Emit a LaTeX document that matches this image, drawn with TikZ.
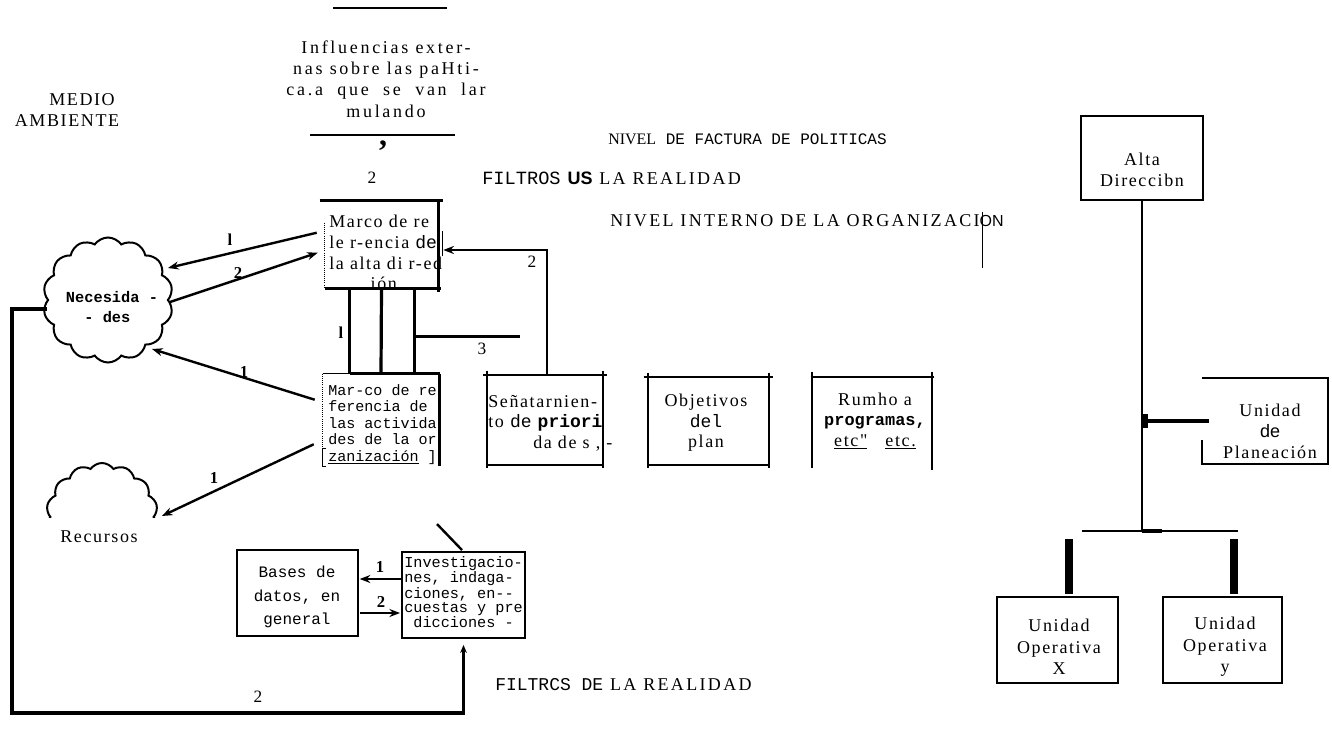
\documentclass[tikz,border=0pt]{standalone}
\usepackage{fontspec}
\setmainfont{Liberation Serif}
\newfontfamily\srf{Liberation Serif}[LetterSpace=9]
\newfontfamily\srfx{Liberation Serif}[LetterSpace=13]
\newfontfamily\srfw{Liberation Serif}[LetterSpace=15]
\newfontfamily\mono{Liberation Mono}
\newfontfamily\sns{Liberation Sans}
\usetikzlibrary{arrows.meta,shapes.symbols,calc}
\newdimen\px \px=0.75pt
% box drawn as four strokes whose ends overshoot the corners a little
\newcommand\ovbox[1]{%
  \draw[bx] ($(#1.north west)+(-4,0)$) -- ($(#1.north east)+(4,0)$);
  \draw[bx] ($(#1.north west)+(0,-4)$) -- ($(#1.south west)+(0,3)$);
  \draw[bx] ($(#1.north east)+(0,-4)$) -- ($(#1.south east)+(0,3)$);
  \draw[bx] (#1.south west) -- (#1.south east);}
\begin{document}
\begin{tikzpicture}[x=0.75pt,y=-0.75pt,
  txt/.style={inner sep=0pt, align=center, font=\srf\fontsize{13.5}{15.4}\selectfont},
  tw/.style={inner sep=0pt, align=left, font=\mono\fontsize{11.3}{12.4}\selectfont},
  num/.style={inner sep=0pt, font=\bfseries\fontsize{12.5}{12.5}\selectfont},
  plainnum/.style={inner sep=0pt, font=\fontsize{13}{13}\selectfont},
  bx/.style={line width=1.2pt},
  fullbox/.style={draw, line width=1.2pt, inner sep=0pt},
  shell/.style={inner sep=0pt},
  heavy/.style={line width=2.4pt},
  link/.style={line width=1.8pt, -{Stealth[length=8pt,width=6pt]}},
  puff/.style={cloud, cloud puffs=14, cloud puff arc=110, cloud ignores aspect,
    draw, line width=1.5pt, inner sep=0pt},
]
\path[fill=white] (0,0) rectangle (1332,731);
\useasboundingbox (0,0) rectangle (1332,731);

% ---------- environment and external influences ----------
\node[txt] (medio) at (82,100) {MEDIO};
\node[txt] (amb) at (67,121) {AMBIENTE};

\draw[line width=1pt] (333,8) -- (447,8);
\node[txt, font=\srfw\fontsize{13.5}{15.9}\selectfont] (infl) at (386,79)
  {Influencias exter-\\nas sobre las paHti-\\ca.a \ que \ se \ van \ lar\\mulando};
\draw[line width=1.3pt] (310,135) -- (455,135);
\node[inner sep=0pt, font=\bfseries\fontsize{24}{24}\selectfont] (comma) at (383,146) {,};
\node[plainnum] (two) at (372,178) {2};

% ---------- level headings ----------
\node[anchor=west, inner sep=0pt, font=\fontsize{12}{12}\selectfont] (nivf) at (608,139)
  {NIVEL{\mono\ DE FACTURA DE POLITICAS}};
\node[anchor=west, inner sep=0pt, font=\srfx\fontsize{13.5}{14}\selectfont] (filt) at (482,178)
  {{\mono\fontsize{14}{14}\selectfont FILTROS} {\sns\bfseries US} LA REALIDAD};
\node[anchor=west, inner sep=0pt, font=\srfx\fontsize{13.5}{14}\selectfont] (nivi) at (610,221)
  {NIVEL INTERNO DE LA ORGANIZACI{\sns\fontsize{12}{12}\selectfont ON}};
\draw[line width=0.7pt] ($(nivi.east)+(-22,-9)$) -- ($(nivi.east)+(-22,47)$);
\node[anchor=west, inner sep=0pt, font=\srfx\fontsize{13.5}{14}\selectfont] (filt2) at (495,685)
  {{\mono\fontsize{13.5}{14}\selectfont FILTRCS DE} LA REALIDAD};

% ---------- frame of reference of top management ----------
\node[shell, minimum width=113\px, minimum height=87\px] (m1) at (381.5,244.5) {};
\draw[heavy] ($(m1.north west)+(-5,0)$) -- ($(m1.north east)+(5,0)$);
\draw[heavy] (m1.north east) -- ($(m1.south east)+(0,4)$);
\draw[heavy] (m1.south west) -- ($(m1.south east)+(3,0)$);
\draw[line width=0.6pt, densely dotted] ($(m1.north west)+(0,22)$) -- (m1.south west);
\draw[line width=0.8pt] ($(m1.east)+(4,-13)$) -- ($(m1.east)+(4,11)$);
\node[txt, anchor=north west, align=left, font=\srf\fontsize{13.5}{15.5}\selectfont] (m1t) at (329,215)
  {Marco de re\\le r-encia {\mono de}\\la alta di r-ed\\\hspace*{2.3em}ión};

% ---------- frame of reference of the organisation ----------
\node[shell, minimum width=116\px, minimum height=92\px] (m2) at (381,420) {};
\draw[heavy] ($(m2.north west)+(27,0)$) -- ($(m2.north east)+(1,0)$);
\draw[line width=0.8pt] (m2.north west) -- ($(m2.north west)+(27,0)$);
\draw[heavy] (m2.north east) -- (m2.south east);
\draw[line width=0.6pt, densely dotted] (m2.north west) -- (m2.south west);
\draw[line width=0.9pt] ($(m2.south west)+(3,-18)$) -- ($(m2.south west)+(0,-18)$)
  -- (m2.south west) -- ($(m2.south west)+(3,0)$);
\node[tw, anchor=north west] (m2t) at (328,384)
  {Mar-co de re\\ferencia de\\las activida\\des de la or\\\underline{zanización}\ ]};

% links between the two frames
\draw[heavy] ($(m1.south west)+(25,0)$) -- ($(m2.north west)+(27,0)$);
\draw[heavy] (m1.south) -- (m2.north);
\draw[heavy] ($(m1.south west)+(90,0)$) -- ($(m2.north west)+(92,0)$);
\coordinate (tap3) at ($(m1.south west)+(195,48)$);
\draw[heavy] ($(m1.south west)+(90,48)$) -- (tap3);
\node[num] (l1) at (341,333) {l};
\node[plainnum] (l3) at (482,349) {3};

% ---------- plan contents ----------
\node[shell, minimum width=116\px, minimum height=90\px] (sen) at (545,420) {};
\ovbox{sen}
\node[txt, anchor=west, align=left] (sent) at (488,423)
  {Señatarnien-\\to {\mono de} {\mono\bfseries priori}\\\hspace*{2.5em}da de s , -};
\node[shell, minimum width=121\px, minimum height=88\px] (obj) at (708.5,421) {};
\ovbox{obj}
\node[txt] (objt) at (706,423) {Objetivos\\{\mono del}\\plan};
\node[shell, minimum width=120\px, minimum height=91\px] (rum) at (872,422.5) {};
\draw[bx] ($(rum.north west)+(-1,0)$) -- ($(rum.north east)+(2,0)$);
\draw[bx] ($(rum.north west)+(0,-5)$) -- (rum.south west);
\draw[bx] ($(rum.north east)+(0,-5)$) -- ($(rum.south east)+(0,2)$);
\node[txt] (rumt) at (875,421)
  {Rumho a\\{\mono\bfseries\fontsize{12.7}{15}\selectfont programas,}\\\underline{etc"}\quad\underline{etc.}};

\draw[line width=2pt, -{Stealth[length=8pt,width=6pt]}]
  ($(sen.north)+(2,0)$) |- ($(m1.east)+(5,5.5)$);
\node[plainnum] (l2r) at (532,262) {2};

% ---------- environment clouds ----------
\node[puff, minimum width=130\px, minimum height=125\px] (nec) at (108,300) {};
\node[inner sep=0pt, align=left, font=\mono\bfseries\fontsize{11.5}{15}\selectfont] (nect) at (112,307)
  {Necesida -\\\hspace*{1.2em}- des};
\begin{scope}
  \clip (0,440) rectangle (300,517);
  \node[puff, minimum width=112\px, minimum height=108\px] (rec) at (102,517) {};
\end{scope}
\node[txt] (rect) at (99,537) {Recursos};

\draw[link] ($(m1.north west)+(-8,32)$) -- ($(nec.center)+(60,-32)$);
\node[num] (la) at (230,240) {l};
\draw[link] ($(nec.center)+(62,2)$) -- ($(m1.north west)+(-7,52)$);
\node[num] (lb) at (238,273) {2};
\draw[link] ($(m2.north west)+(-8,26)$) -- ($(nec.center)+(44,49)$);
\node[num] (lc) at (244,372) {1};
\draw[link] ($(m2.south west)+(-9,-22)$) -- ($(rec.east)+(7,-1)$);
\node[num] (ld) at (214,478) {1};

% ---------- research and data bases ----------
\node[fullbox, line width=1.4pt, minimum width=123\px, minimum height=86\px] (inv) at (463.5,595) {};
\node[inner sep=0pt, align=left, anchor=north west, font=\mono\fontsize{11.4}{10.6}\selectfont]
  (invt) at (404,556)
  {Investigacio-\\nes, indaga-\\ciones, en--\\cuestas y pre\\\ dicciones -};
\draw[line width=1.8pt] ($(inv.north)+(-26.5,-27)$) -- ($(inv.north)+(-1.5,-1)$);

\node[fullbox, line width=1pt, minimum width=121\px, minimum height=86\px] (bas) at (297.5,593) {};
\node[inner sep=0pt, align=center, font=\mono\fontsize{12}{17.6}\selectfont] (bast) at (297,597)
  {Bases de\\datos, en\\general};

\draw[link] ($(inv.west)+(0,-16)$) -- ($(bas.east)+(1,-14)$);
\node[num] (le) at (380,567) {1};
\draw[link] ($(bas.east)+(1,20)$) -- ($(inv.west)+(-1,18)$);
\node[num] (lf) at (381,602) {2};

% feedback from the environment to research
\coordinate (loopL) at (12,713);
\draw[line width=2.4pt, -{Stealth[length=6pt,width=5pt]}]
  ($(nec.west)+(0,9)$) -| (loopL) -| ($(inv.south)+(0,6)$);
\node[plainnum] (lg) at (258,697) {2};

% ---------- organisation chart ----------
\node[fullbox, minimum width=122\px, minimum height=84\px] (alta) at (1142,158) {};
\node[txt] (altat) at (1142,170) {Alta\\Direccibn};
\node[shell, minimum width=126\px, minimum height=86\px] (plan) at (1265,421) {};
\draw[bx] ($(plan.south west)+(0,-24)$) -- (plan.south west) -- (plan.south east)
  -- (plan.north east) -- (plan.north west);
\node[txt, font=\srf\fontsize{13.5}{15.8}\selectfont] (plant) at (1270,431)
  {Unidad\\{\sns de}\\Planeación};
\node[fullbox, minimum width=121\px, minimum height=86\px] (opx) at (1057.5,640) {};
\node[txt, font=\srf\fontsize{13.5}{16}\selectfont] (opxt) at (1059,647) {Unidad\\Operativa\\X};
\node[fullbox, minimum width=119\px, minimum height=86\px] (opy) at (1222.5,640) {};
\node[txt, font=\srf\fontsize{13.5}{16}\selectfont] (opyt) at (1225,647) {Unidad\\Operativa\\y};

\coordinate (busL) at (1082,531);
\coordinate (busR) at (1238,531);
\draw[line width=1.3pt] (busL) -- (busR);
\draw[line width=1.3pt] (alta.south) -- (alta.south |- busL);
\draw[line width=3pt] (alta.south |- busL) -- ++(20,0);
\draw[line width=2.6pt] (alta.south |- plan.west) -- ($(plan.west)+(7,0)$);
\draw[line width=4pt] ($(alta.south |- plan.west)+(3,-7)$) -- ++(0,14);
\draw[line width=6pt] ($(opx.north)+(11,-57)$) -- ($(opx.north)+(11,-2)$);
\draw[line width=6pt] ($(opy.north)+(11,-57)$) -- ($(opy.north)+(11,-2)$);
\end{tikzpicture}
\end{document}
